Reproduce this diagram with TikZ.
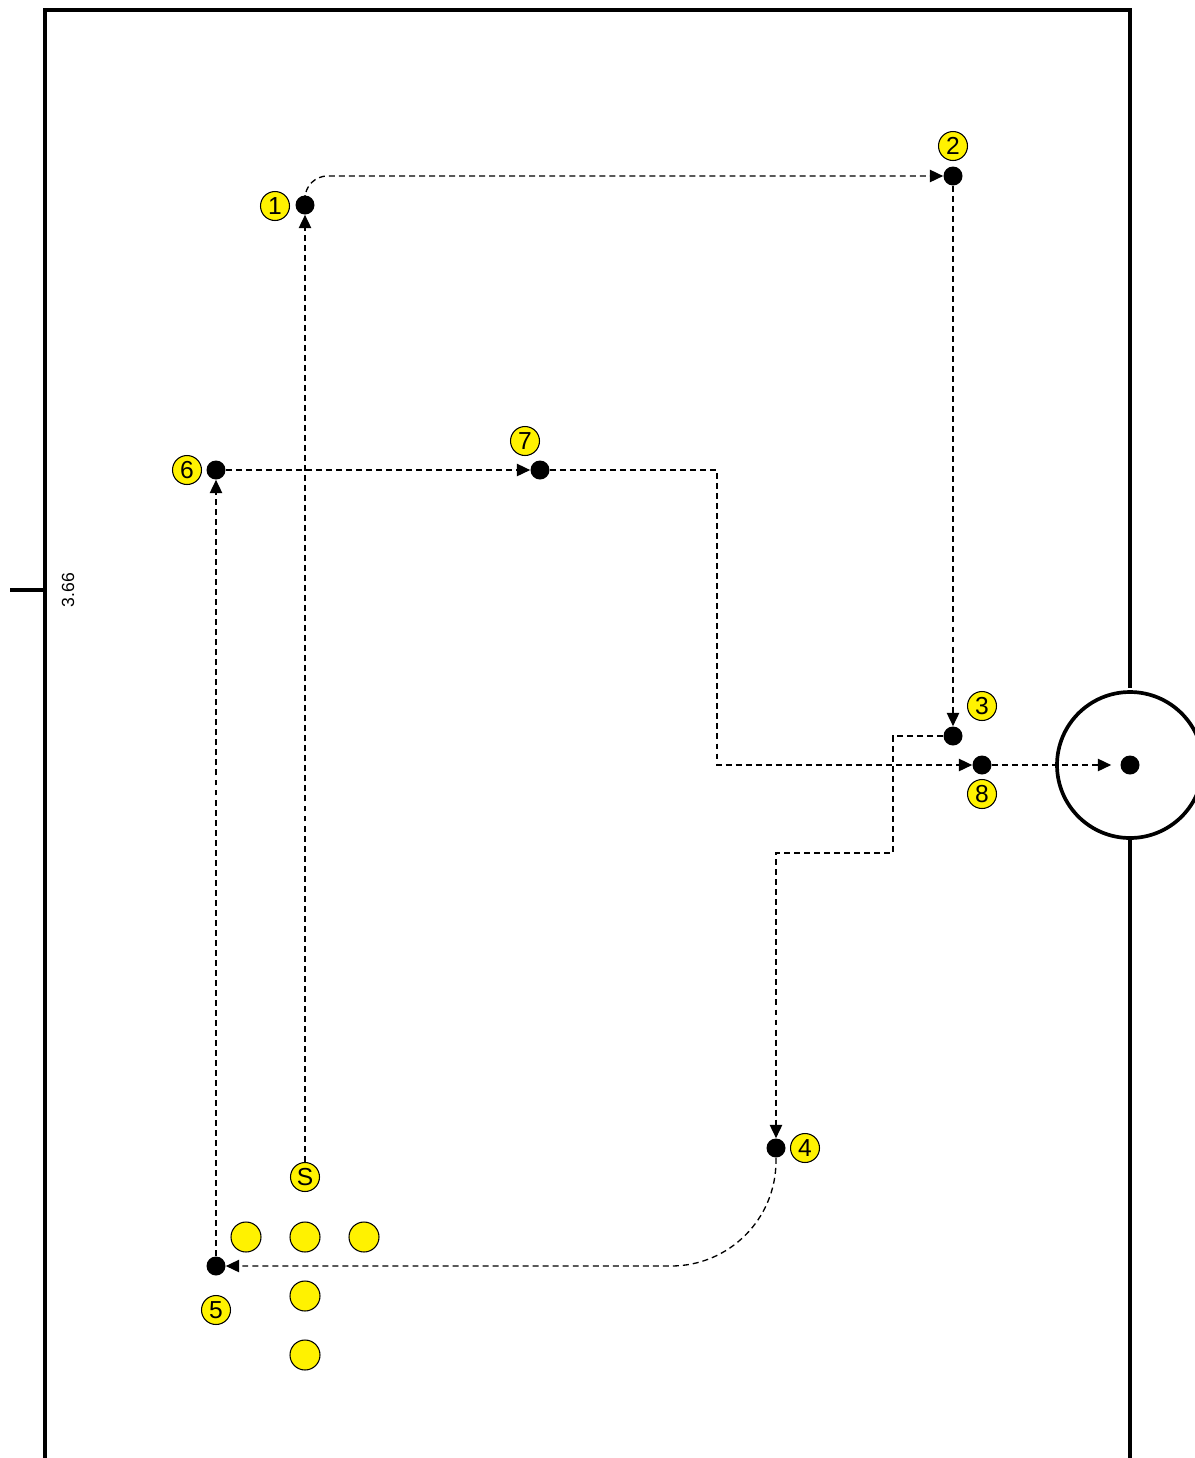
\documentclass[tikz,border=0pt]{standalone}
\usepackage{fontspec}
\setmainfont{Liberation Sans}
\usetikzlibrary{arrows.meta}

\tikzset{
  border/.style={line width=2.1pt},
  player/.style={circle, fill=black, minimum size=0.38cm, inner sep=0pt},
  tag/.style={circle, draw=black, line width=0.6pt, fill=yellow, minimum size=0.58cm,
              inner sep=0pt, font=\fontsize{14}{14}\selectfont},
  cone/.style={circle, draw=black, line width=0.6pt, fill=yellow, minimum size=0.6cm, inner sep=0pt},
  run/.style={line width=0.75pt, dash pattern=on 3.4pt off 2.3pt,
              -{Triangle[length=7.5pt, width=7pt]}}
}

\begin{document}
\begin{tikzpicture}[x=0.02cm, y=-0.02cm]
\useasboundingbox (0,0) rectangle (1195,1458);
\clip (0,0) rectangle (1195,1458);

% Pitch outline and goal area
\draw[border] (45,1470) -- (45,10) -- (1130,10) -- (1130,688);
\draw[border] (1130,837) -- (1130,1470);
\draw[border] (1130,765) circle (1.46cm);

% Width mark
\draw[border] (10,590) -- (45,590);
\node[rotate=90, font=\fontsize{10}{10}\selectfont] (width) at (68,590) {3.66};

% Players with their numbers
\foreach \n/\px/\py/\lx/\ly in {1/305/205/275/206, 2/953/176/953/146, 3/953/736/982/706,
    4/776/1148/805/1148, 5/216/1266/216/1310, 6/216/470/187/470,
    7/540/470/525/441, 8/982/765/982/794} {
  \node[player] (p\n) at (\px,\py) {};
  \node[tag] (l\n) at (\lx,\ly) {\n};
}
\node[player] (ball) at (1130,765) {};

% Start and cones
\node[tag] (start) at (305,1177) {S};
\foreach \i/\cx/\cy in {1/246/1237, 2/305/1237, 3/364/1237, 4/305/1296, 5/305/1355} {
  \node[cone] (c\i) at (\cx,\cy) {};
}

% Runs
\draw[run] (start) -- (p1);
\draw[run, rounded corners=0.45cm] (p1) |- (p2);
\draw[run] (p2) -- (p3);
\draw[run] (p3) -| (893,853) -| (p4);
\draw[run, rounded corners=2.1cm] (p4) |- (p5);
\draw[run] (p5) -- (p6);
\draw[run] (p6) -- (p7);
\draw[run] (p7) -| (717,765) -- (p8);
\draw[run, shorten >=0.18cm] (p8) -- (ball);

\end{tikzpicture}
\end{document}
